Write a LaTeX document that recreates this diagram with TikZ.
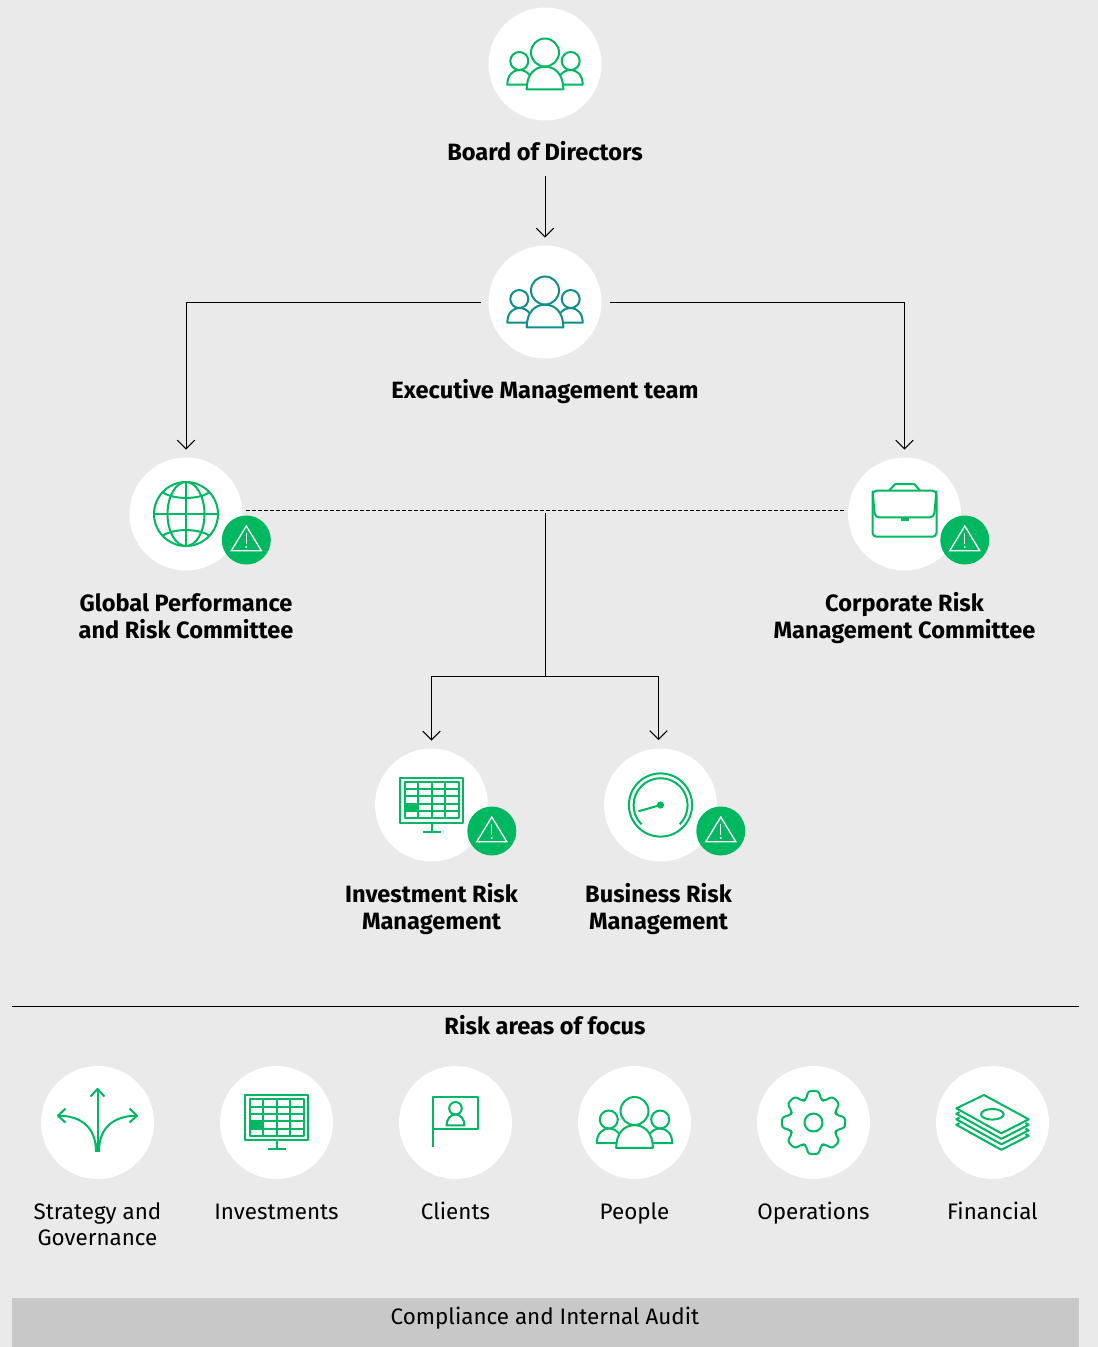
\documentclass[tikz,border=0pt]{standalone}
\usepackage{fontspec}
\setmainfont{Fira Sans}
\usetikzlibrary{arrows.meta}
\definecolor{pagegrey}{HTML}{EAEAEA}
\definecolor{bargrey}{HTML}{C8C8C8}
\definecolor{riskgreen}{HTML}{00B860}
\definecolor{riskteal}{HTML}{0F8E8C}

\tikzset{
    people/.pic={
        \draw (0,-11.5) circle[radius=14];
        \draw (-18.3,25.3) .. controls (-18.3,10) and (-10,2.7) .. (0,2.7) .. controls (10,2.7) and (18.3,10) .. (18.3,25.3) -- cycle;
        \draw (-25.7,-3) circle[radius=9];
        \draw (25.7,-3) circle[radius=9];
        \draw (-17.5,20.7) -- (-37.7,20.7) .. controls (-37.7,11) and (-32,6) .. (-25.7,6) .. controls (-21,6) and (-18,8) .. (-15.5,11);
        \draw (17.5,20.7) -- (37.7,20.7) .. controls (37.7,11) and (32,6) .. (25.7,6) .. controls (21,6) and (18,8) .. (15.5,11);
    },
    globe/.pic={
        \draw (0,0) circle[radius=32];
        \draw (0,0) ellipse[x radius=18.5,y radius=32];
        \draw (0,-32) -- (0,32) (-32,0) -- (32,0);
        \draw (-24,-22.3) .. controls (-14,-14) and (14,-14) .. (24,-22.3);
        \draw (-24,22.3) .. controls (-14,14) and (14,14) .. (24,22.3);
    },
    briefcase/.pic={
        \draw[rounded corners=3] (-32,-23.3) rectangle (32,22.7);
        \draw[rounded corners=3] (-32,-23.3) -- (-29.5,3.3) -- (29.5,3.3) -- (32,-23.3);
        \draw (-15.5,-23.3) -- (-9.3,-30) -- (9.7,-30) -- (15.6,-23.3);
        \fill (-4,3.3) rectangle (4,7);
    },
    monitor/.pic={
        \draw (-31.4,-27.5) rectangle (31.7,17.6);
        \draw (-27,-23.3) rectangle (27.8,13.3);
        \draw (-13.2,-23.3) -- (-13.2,13.3) (0.5,-23.3) -- (0.5,13.3) (13.8,-23.3) -- (13.8,13.3);
        \draw (-27,-16) -- (27.8,-16) (-27,-8.7) -- (27.8,-8.7) (-27,-1.4) -- (27.8,-1.4) (-27,6) -- (27.8,6);
        \fill (-27,-1.4) rectangle (-13.2,6);
        \draw (0.3,18.3) -- (0.3,26.6) (-9,26.6) -- (9.3,26.6);
    },
    gauge/.pic={
        \draw (0,0) circle[radius=31.6];
        \draw (-19,19.3) arc[start angle=225,end angle=-45,radius=20.25pt];
        \fill (0,0) circle[radius=3.6];
        \draw (0,0) -- (-22,6.3);
    },
    forks/.pic={
        \draw (0,29) -- (0,-33);
        \draw (-7,-26) -- (0,-33.5) -- (7,-26);
        \draw (-1.5,29) .. controls (-1.5,2) and (-20,-6.8) .. (-39,-6.8);
        \draw (-32,-14) -- (-39.5,-6.8) -- (-32,0);
        \draw (1.5,29) .. controls (1.5,2) and (20,-6.8) .. (39,-6.8);
        \draw (32,-14) -- (39.5,-6.8) -- (32,0);
        \fill (-2.6,20) rectangle (2.6,29.5);
    },
    flag/.pic={
        \draw (-22.8,24.8) -- (-22.8,-25.2) -- (22.8,-25.2) -- (22.8,6.8) -- (-22.8,6.8);
        \draw (0,-14.2) circle[radius=6.3];
        \draw (-9,2.8) .. controls (-9,-3) and (-5,-8.2) .. (0,-8.2) .. controls (5,-8.2) and (9,-3) .. (9,2.8) -- cycle;
    },
    gear/.pic={
        \draw (0,0) circle[radius=9];
        \draw[rounded corners=2pt] (-19:24) \foreach \a in {0,45,...,315} { -- (\a-19:24) -- (\a-9:32) -- (\a+9:32) -- (\a+19:24) } -- cycle;
    },
    money/.pic={
        \draw (-8.5,-27.5) -- (36.2,-3.2) -- (8.8,10.8) -- (-36.2,-14.2) -- cycle;
        \draw (-0.2,-8.2) ellipse[x radius=11.3,y radius=5.3];
        \foreach \d in {5.5,11,16.5} {
            \draw (-33,-12.5+\d-5.5+2) -- (-36.2,-14.2+\d) -- (8.8,10.8+\d) -- (36.2,-3.2+\d) -- (33,-5+\d);
        }
    },
    warning/.pic={
        \fill[riskgreen] (0,0) circle[radius=24.5];
        \draw[white,line width=1pt,line join=miter] (0,-14) -- (15,10.7) -- (-15,10.7) -- cycle;
        \draw[white,line width=1pt] (0,-7.3) -- (0,4);
        \fill[white] (0,7) circle[radius=1.1];
    }
}

\begin{document}
\begin{tikzpicture}[x=0.75pt,y=-0.75pt,>={Straight Barb[length=6.5pt,width=13pt]},line width=0.75pt,node distance=67pt]
        \tikzstyle{hub}=[circle,fill=white,minimum size=84.75pt,inner sep=0pt,outer sep=6pt]
        \tikzstyle{title}=[align=center,text height=18pt,text depth=8pt,font=\bfseries\fontsize{17.7pt}{20.25pt}\selectfont,inner sep=0pt,outer sep=0pt]
        \tikzstyle{caption}=[align=center,text height=18pt,text depth=8pt,font=\fontsize{16.8pt}{19.5pt}\selectfont,inner sep=0pt]
        \tikzstyle{twoline}=[text height=38.25pt]
        \tikzstyle{icon}=[color=riskgreen,line width=1.5pt,line join=round]
        \fill[pagegrey] (0,0) rectangle (1098,1347);
        \useasboundingbox (0,0) rectangle (1098,1347);

        \node[hub]                      (board) at (545,64)     {};
        \node[hub]                      (exec) at (545,302)     {};
        \node[hub]                      (global) at (186,514)   {};
        \node[hub]                      (corporate) at (904.5,514) {};
        \node[hub]                      (investment) at (431.5,805) {};
        \node[hub]                      (business) at (660.5,805) {};

        \node[title]    (boardlabel) [below of=board]       {Board of Directors};
        \node[title]    (execlabel) [below of=exec]         {Executive Management team};
        \node[title,twoline]    (globallabel) [below of=global,node distance=77.9pt] {Global Performance\\and Risk Committee};
        \node[title,twoline]    (corporatelabel) [below of=corporate,node distance=77.9pt] {Corporate Risk\\Management Committee};
        \node[title,twoline]    (investmentlabel) [below of=investment,node distance=77.9pt] {Investment Risk\\Management};
        \node[title,twoline]    (businesslabel) at (658.5,908.9)    {Business Risk\\Management};

        \coordinate (dashleft) at (246,510);
        \coordinate (dashright) at (845,510);
        \coordinate (stemtop) at (545,513);
        \coordinate (fork) at (545,676);
        \coordinate (businesstip) at (658.5,740);
        \coordinate (boardfoot) at (545,176);

        \draw[->] (boardfoot) -- (exec.north);
        \draw[->] (exec.west) -| (global.north);
        \draw[->] (exec.east) -| (corporate.north);
        \draw[dash pattern=on 3pt off 1.5pt] (dashleft) -- (dashright);
        \draw (stemtop) -- (fork);
        \draw[->] (fork) -| (investment.north);
        \draw[->] (fork) -| (businesstip);

        \pic[icon] at (board) {people};
        \pic[icon,color=riskteal] at (exec) {people};
        \pic[icon] at (global) {globe};
        \pic[icon] at (corporate) {briefcase};
        \pic[icon] at (investment) {monitor};
        \pic[icon] at (business) {gauge};
        \pic[shift={(60.3,26)}] at (global) {warning};
        \pic[shift={(60.3,26)}] at (corporate) {warning};
        \pic[shift={(60.3,26)}] at (investment) {warning};
        \pic[shift={(60.3,26)}] at (business) {warning};

        % risk areas
        \coordinate (ruleleft) at (12,1006);
        \coordinate (ruleright) at (1079,1006);
        \draw (ruleleft) -- (ruleright);
        \node[title]    (focus) at (545,1028.3) {Risk areas of focus};

        \begin{scope}[node distance=134.25pt]
        \node[hub]      (strategy) at (97.5,1122.5) {};
        \node[hub]      (investments) [right of=strategy]   {};
        \node[hub]      (clients) [right of=investments]    {};
        \node[hub]      (people) [right of=clients]         {};
        \node[hub]      (operations) [right of=people]      {};
        \node[hub]      (financial) [right of=operations]   {};
        \end{scope}

        \begin{scope}[node distance=68.1pt]
        \node[caption,twoline]  (strategylabel) [below of=strategy,node distance=77.2pt] {Strategy and\\Governance};
        \node[caption]  (investmentslabel) [below of=investments] {Investments};
        \node[caption]  (clientslabel) [below of=clients]   {Clients};
        \node[caption]  (peoplelabel) [below of=people]     {People};
        \node[caption]  (operationslabel) [below of=operations] {Operations};
        \node[caption]  (financiallabel) [below of=financial] {Financial};
        \end{scope}

        \pic[icon] at (strategy) {forks};
        \pic[icon] at (investments) {monitor};
        \pic[icon] at (clients) {flag};
        \pic[icon] at (people) {people};
        \pic[icon] at (operations) {gear};
        \pic[icon] at (financial) {money};

        \fill[bargrey] (12,1298) rectangle (1079,1347);
        \node[caption]  (audit) at (545,1318.3) {Compliance and Internal Audit};
    \end{tikzpicture}
\end{document}
